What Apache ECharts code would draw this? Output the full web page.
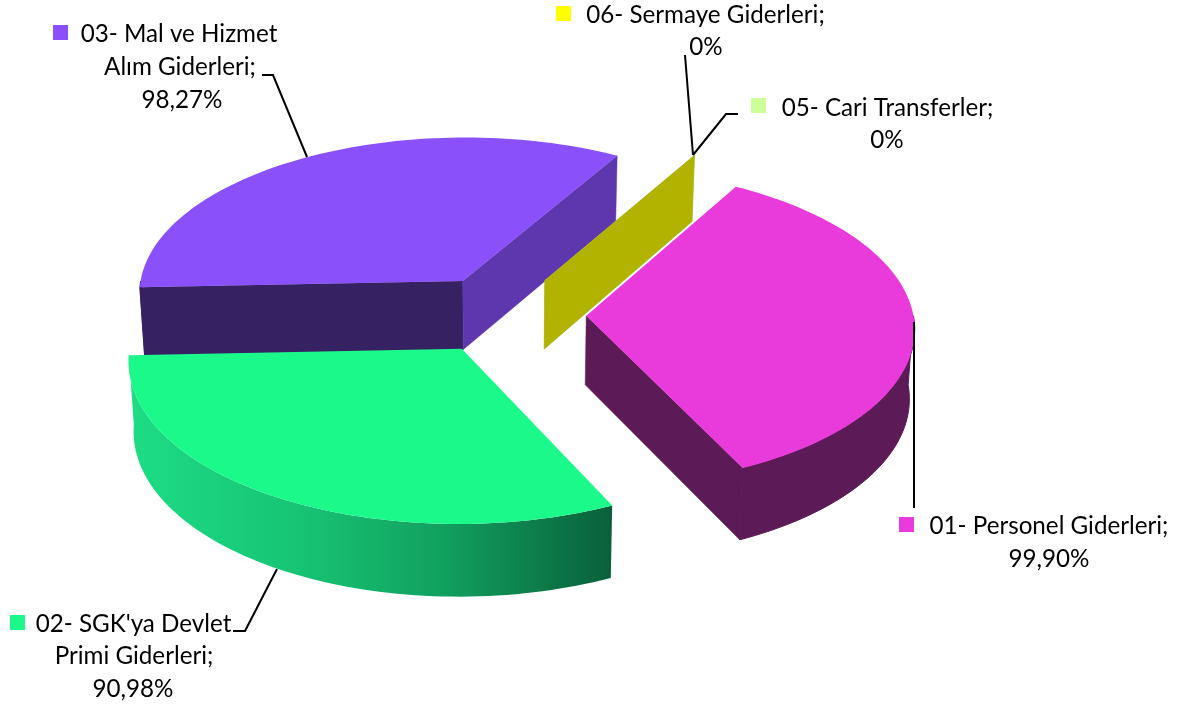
<!DOCTYPE html>
<html>
<head>
<meta charset="utf-8">
<style>html,body{margin:0;padding:0;background:#fff}#c{width:1179px;height:709px}</style>
<script src="https://cdn.jsdelivr.net/npm/echarts@6/dist/echarts.min.js"></script>
</head>
<body>
<div id="c"></div>
<script>
// ---- data ----
const categories = ["01- Personel Giderleri;", "02- SGK'ya Devlet\nPrimi Giderleri;", "03- Mal ve Hizmet\nAlım Giderleri;", "05- Cari Transferler;", "06- Sermaye Giderleri;"];
const values = [99.90, 90.98, 98.27, 0, 0];
const valueLabels = ["99,90%", "90,98%", "98,27%", "0%", "0%"];
// ---- style ----
const keyColors  = ["#E93BDB", "#1BF98B", "#8A51FA", "#CCFF99", "#FFFF00"];
const startWalls = ["#5C1A56", "#0A6137", "#362262", "#A3CC7A", "#B2B200"];
const endWalls   = ["#5C1A56", "#0A6137", "#5E37AE", "#A3CC7A", "#B2B200"];
const drawOrder  = [2, 3, 4, 0, 1];
// ---- layout of the perspective pie ----
const PIE = {cx: 504.5, cy: 314.3, rx: 327, ry: 158, k: 0.07, explode: 0.25, depth: 69, shrink: 0.987, start: 30};
const labelFont = 'Lato';
const labelSize = 24.2;
const lineBoxes = [
  {key: [899, 517], centers: [[1049, 526], [1049, 559]]},
  {key: [10, 615],  centers: [[133.5, 624], [134, 656], [133, 689]]},
  {key: [53, 25],   centers: [[179, 34], [180, 67], [182, 100]]},
  {key: [751, 98],  centers: [[887.5, 108], [887, 140]]},
  {key: [556, 6],   centers: [[705.5, 15], [706, 47]]}
];
const leaders = [
  [[914, 322], [914, 508]],
  [[277, 569], [245, 631], [233, 631]],
  [[307, 157], [273, 75], [262, 75]],
  [[693, 155], [726, 114], [738, 114]],
  [[693, 155], [685, 55]]
];

const total = values.reduce((a, b) => a + b, 0);
const rad = d => d * Math.PI / 180;
const spans = [];
values.reduce((acc, v) => {
  const sweep = v / total * 360;
  spans.push([acc, acc + sweep]);
  return acc + sweep;
}, PIE.start);

function project(i, t, bottom) {
  const s = spans[i], m = rad((s[0] + s[1]) / 2);
  const X = PIE.explode * Math.sin(m) + (t === null ? 0 : Math.sin(rad(t)));
  const Y = PIE.explode * Math.cos(m) + (t === null ? 0 : Math.cos(rad(t)));
  const w = 1 + PIE.k * Y;
  const f = bottom ? PIE.shrink : 1;
  return [PIE.cx + PIE.rx * X / w * f, PIE.cy - PIE.ry * Y / w * f + (bottom ? PIE.depth / w : 0)];
}
function arc(i, a, b, bottom) {
  const pts = [], n = Math.max(1, Math.ceil(Math.abs(b - a) / 1.5));
  for (let j = 0; j <= n; j++) pts.push(project(i, a + (b - a) * j / n, bottom));
  return pts;
}
function wall(i, t, fill) {
  return {type: 'polygon', shape: {points: [project(i, null, false), project(i, t, false), project(i, t, true), project(i, null, true)]},
    style: {fill: fill, stroke: fill, lineWidth: 0.5}};
}
function renderSlice(params, api) {
  const i = api.value(0), s = spans[i], kids = [];
  // a radial wall is only drawn when it faces the viewer
  if (Math.sin(rad(s[0])) < 0) kids.push(wall(i, s[0], startWalls[i]));
  if (Math.sin(rad(s[1])) > 0) kids.push(wall(i, s[1], endWalls[i]));
  const lo = Math.max(s[0], 90), hi = Math.min(s[1], 270);
  if (hi > lo) {
    const grad = i === 1;
    const fill = grad ? {type: 'linear', x: 1, y: 0, x2: 0, y2: 0, colorStops: [
      {offset: 0, color: '#09603A'}, {offset: 0.35, color: '#11A05F'}, {offset: 0.65, color: '#17C474'}, {offset: 1, color: '#1DDD85'}]} : startWalls[i];
    kids.push({type: 'polygon', shape: {points: arc(i, lo, hi, false).concat(arc(i, hi, lo, true))},
      style: grad ? {fill: fill} : {fill: fill, stroke: fill, lineWidth: 1}});
  }
  if (s[1] > s[0]) {
    kids.push({type: 'polygon', shape: {points: [project(i, null, false)].concat(arc(i, s[0], s[1], false))},
      style: {fill: keyColors[i]}});
  }
  return {type: 'group', children: kids};
}

const graphics = [];
leaders.forEach(p => graphics.push({type: 'polyline', z: 10, silent: true, shape: {points: p}, style: {stroke: '#000', lineWidth: 2, fill: null}}));
categories.forEach((name, i) => {
  const box = lineBoxes[i];
  graphics.push({type: 'rect', z: 10, silent: true, shape: {x: box.key[0], y: box.key[1], width: 15, height: 15}, style: {fill: keyColors[i]}});
  name.split('\n').concat(valueLabels[i]).forEach((line, j) => {
    graphics.push({type: 'text', z: 10, silent: true, x: box.centers[j][0], y: box.centers[j][1],
      style: {text: line, fill: '#000', font: labelSize + 'px ' + labelFont, textAlign: 'center', textVerticalAlign: 'middle'}});
  });
});

const chart = echarts.init(document.getElementById('c'), null, {renderer: 'canvas'});
chart.setOption({
  backgroundColor: '#fff',
  animation: false,
  tooltip: {show: false},
  series: [{
    type: 'custom',
    coordinateSystem: 'none',
    silent: true,
    renderItem: renderSlice,
    data: drawOrder.map(i => ({value: [i, values[i]], name: categories[i]}))
  }],
  graphic: graphics
});
</script>
</body>
</html>
